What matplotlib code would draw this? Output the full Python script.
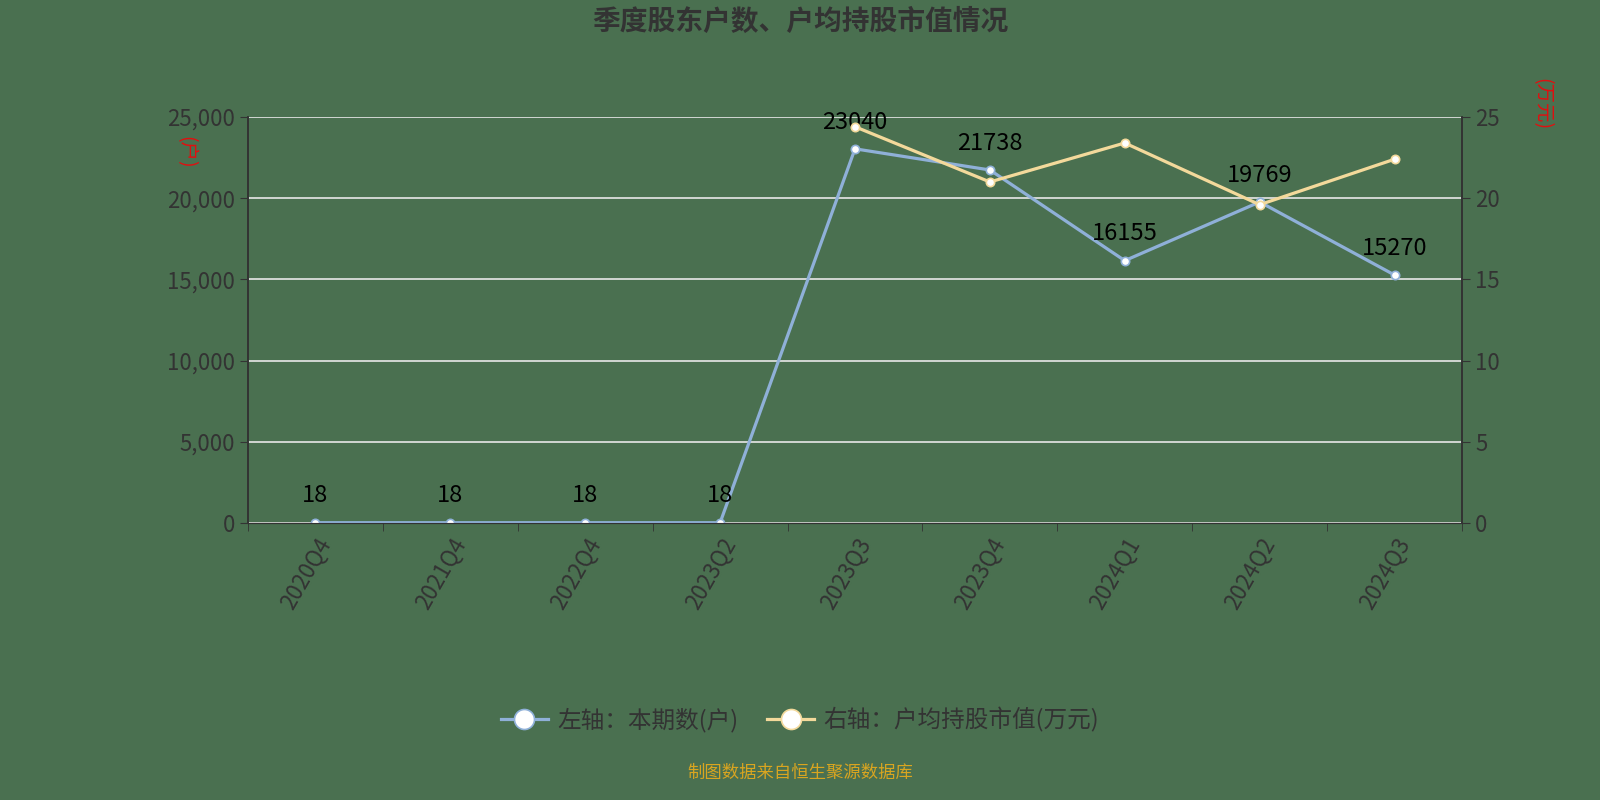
import matplotlib.pyplot as plt
import numpy as np

plt.rcParams['font.family'] = ['Noto Sans CJK SC', 'DejaVu Sans']

quarters = ['2020Q4', '2021Q4', '2022Q4', '2023Q2', '2023Q3', '2023Q4', '2024Q1', '2024Q2', '2024Q3']
holders = [18, 18, 18, 18, 23040, 21738, 16155, 19769, 15270]
avg_value = [np.nan, np.nan, np.nan, np.nan, 24.4, 21.0, 23.4, 19.6, 22.4]

bg = '#4a7050'
blue = '#8fb0d8'
yellow = '#f3d99b'
dark = '#333333'

fig = plt.figure(figsize=(16, 8), dpi=100, facecolor=bg)
ax = fig.add_axes([248 / 1600, 1 - 523 / 800, (1462 - 248) / 1600, (523 - 117) / 800])
ax.set_facecolor(bg)
ax2 = ax.twinx()

x = np.arange(len(quarters))
l1, = ax.plot(x, holders, color=blue, lw=2.3, marker='o', ms=6,
              mfc='white', mec=blue, mew=1.2, zorder=3)
l2, = ax2.plot(x, avg_value, color=yellow, lw=2.3, marker='o', ms=6,
               mfc='white', mec=yellow, mew=1.2, zorder=3)

for xi, v in zip(x, holders):
    ax.annotate(str(v), (xi, v), xytext=(0, 11), textcoords='offset points',
                ha='center', va='bottom', fontsize=17, color='black', zorder=5)

ax.set_xlim(-0.5, len(quarters) - 0.5)
ax.set_ylim(0, 25000)
ax2.set_ylim(0, 25)
ax.set_yticks(np.arange(0, 25001, 5000))
ax2.set_yticks(np.arange(0, 26, 5))
ax.set_yticklabels([f'{v:,}' for v in range(0, 25001, 5000)])
ax.yaxis.grid(True, color='#e8e8e8', lw=1.2)
ax.set_axisbelow(True)

ax.set_xticks(x)
ax.set_xticklabels(quarters, rotation=60, ha='right', rotation_mode='anchor')
ax.set_xticks(np.arange(-0.5, len(quarters), 1), minor=True)
ax.tick_params(axis='x', which='major', length=0, labelsize=16, labelcolor=dark, pad=8)
ax.tick_params(axis='x', which='minor', length=6, color=dark, direction='out')
ax.tick_params(axis='y', length=6, color=dark, labelsize=16, labelcolor=dark)
ax2.tick_params(axis='y', length=6, color=dark, labelsize=16, labelcolor=dark)

for a in (ax, ax2):
    a.spines['top'].set_visible(False)
    a.spines['left'].set_color(dark)
    a.spines['right'].set_color(dark)
    a.spines['bottom'].set_color(dark)
    a.spines['left'].set_linewidth(1.2)
    a.spines['right'].set_linewidth(1.2)

fig.text(186 / 1600, 1 - 152 / 800, '(户)', color='#e01010', fontsize=14,
         rotation=-90, ha='center', va='center')
fig.text(1542 / 1600, 1 - 104 / 800, '(万元)', color='#e01010', fontsize=14,
         rotation=-90, ha='center', va='center')

fig.text(0.5, 1 - 22 / 800, '季度股东户数、户均持股市值情况', ha='center', va='center',
         fontsize=20, fontweight='bold', color=dark)

fig.legend([l1, l2], ['左轴：本期数(户)', '右轴：户均持股市值(万元)'],
           loc='center', bbox_to_anchor=(0.5, 1 - 720 / 800), ncol=2,
           frameon=False, fontsize=17, labelcolor=dark, markerscale=2.4,
           handlelength=2.0, handletextpad=0.4, columnspacing=1.2)

fig.text(0.5, 1 - 773 / 800, '制图数据来自恒生聚源数据库', ha='center', va='center',
         fontsize=12.5, color='#d9a520')

fig.savefig('out.png', dpi=100, facecolor=bg)
